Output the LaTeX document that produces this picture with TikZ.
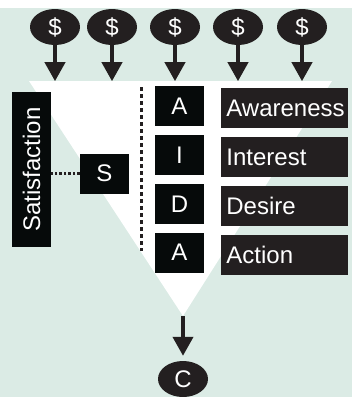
\documentclass[tikz,border=0pt]{standalone}
\usepackage{fontspec}
\setmainfont{Liberation Sans}
\usetikzlibrary{positioning,arrows.meta,shapes.geometric}
\definecolor{mint}{RGB}{219,235,229}
\definecolor{ink}{RGB}{35,31,32}
\definecolor{coal}{RGB}{6,10,10}

\tikzset{
  coin/.style={ellipse, fill=ink, text=white, inner sep=0pt,
    minimum width=50pt, minimum height=36pt, font=\fontsize{24}{24}\selectfont},
  letterbox/.style={rectangle, fill=coal, text=white, inner sep=0pt,
    minimum width=49pt, minimum height=40pt, font=\fontsize{24}{24}\selectfont},
  stagebox/.style={rectangle, fill=ink, text=white, inner ysep=0pt, inner xsep=5pt,
    text width=117pt, align=left, minimum height=40pt, font=\fontsize{24}{24}\selectfont},
  flow/.style={ink, line width=4pt, -{Triangle[width=20pt,length=19pt]}},
  dots/.style={ink, line width=3.5pt, dash pattern=on 3.5pt off 3.5pt},
}

\begin{document}
\begin{tikzpicture}[x=1pt, y=-1pt]
  \useasboundingbox (0,0) rectangle (352,397);
  \fill[white] (0,0) rectangle (352,8);
  \fill[mint] (0,8) rectangle (352,397);
  % funnel
  \fill[white] (29,81) -- (332,81) -- (183,316) -- cycle;

  \node [coin](c1) at (55,27) {\$};
  \node [coin](c2) at (112,27) {\$};
  \node [coin](c3) at (175,27) {\$};
  \node [coin](c4) at (238,27) {\$};
  \node [coin](c5) at (302,27) {\$};

  \coordinate[below = 36pt of c1] (t1);
  \coordinate[below = 36pt of c2] (t2);
  \coordinate[below = 36pt of c3] (t3);
  \coordinate[below = 36pt of c4] (t4);
  \coordinate[below = 36pt of c5] (t5);

  \draw[flow] (c1) -- (t1);
  \draw[flow] (c2) -- (t2);
  \draw[flow] (c3) -- (t3);
  \draw[flow] (c4) -- (t4);
  \draw[flow] (c5) -- (t5);

  % AIDA letters and stages
  \node [letterbox](a1) at (179.5,106) {A};
  \node [letterbox, below = 8.5pt of a1](i) {I};
  \node [letterbox, below = 8.5pt of i](d) {D};
  \node [letterbox, below = 8.5pt of d](a2) {A};

  \node [stagebox, right = 17pt of a1, yshift=-2pt](aw) {Awareness};
  \node [stagebox, right = 17pt of i, yshift=-2pt](in) {Interest};
  \node [stagebox, right = 17pt of d, yshift=-2pt](de) {Desire};
  \node [stagebox, right = 17pt of a2, yshift=-2pt](ac) {Action};

  \coordinate (d1) at (141.5,87);
  \coordinate (d2) at (141.5,251);
  \draw[dots] (d1) -- (d2);

  % satisfaction
  \node [letterbox, rotate=90, minimum width=155pt, minimum height=39pt](sat) at (31.5,169.5) {Satisfaction};
  \node [letterbox](s) at (104.5,173.5) {S};
  \draw[dots, line width=2.5pt, dash pattern=on 2.5pt off 2pt] (s.west) -- (s.west -| sat.south);

  % customer
  \node [coin](c) at (183,379) {C};
  \coordinate (apex) at (183,316);
  \coordinate[above = 5pt of c] (ctip);
  \draw[flow] (apex) -- (ctip);
\end{tikzpicture}
\end{document}
